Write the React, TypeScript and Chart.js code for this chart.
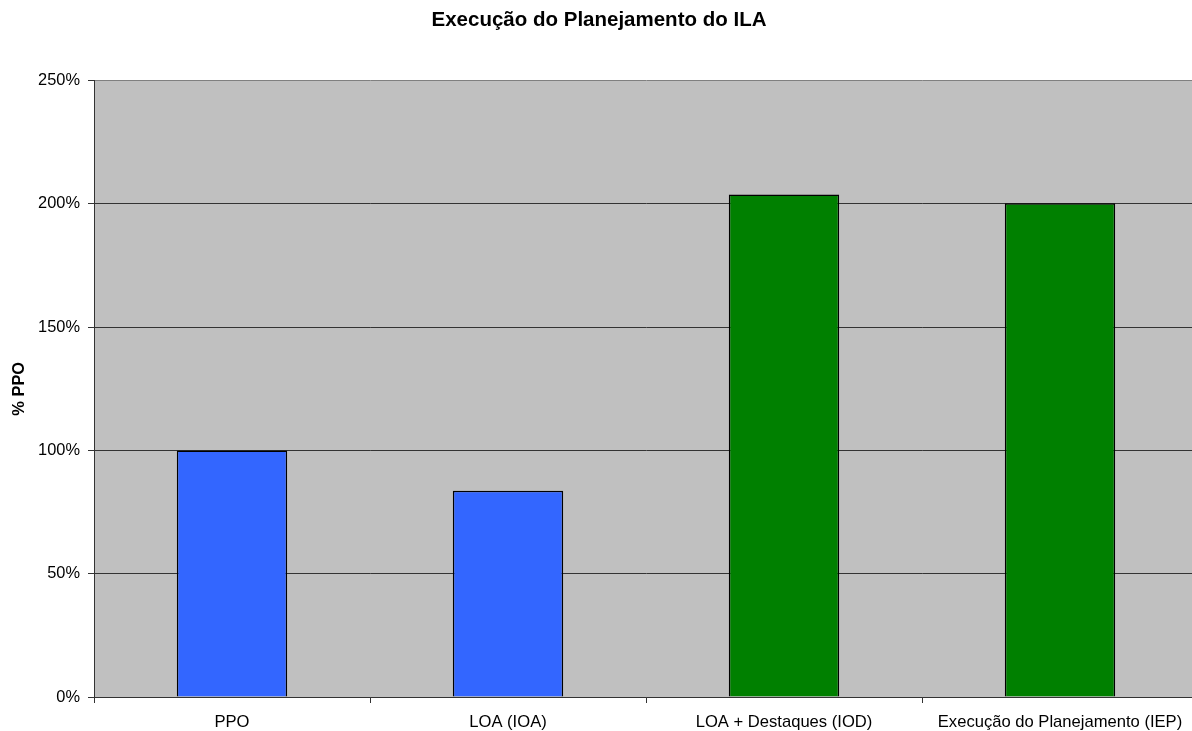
import React, { useEffect, useRef } from "react";
import { Chart, registerables } from "chart.js";

Chart.register(...registerables);

const categories = [
  "PPO",
  "LOA (IOA)",
  "LOA + Destaques (IOD)",
  "Execução do Planejamento (IEP)",
];
const percentValues = [100, 83.7, 203.8, 200.3];
const barColors = ["#3366FF", "#3366FF", "#008000", "#008000"];
const yTicks = [0, 50, 100, 150, 200, 250];

const chartTitle = "Execução do Planejamento do ILA";
const yAxisTitle = "% PPO";

const plotBackground = {
  id: "plotBackground",
  beforeDraw(chart: any) {
    const { ctx, chartArea } = chart;
    ctx.save();
    ctx.fillStyle = "#C0C0C0";
    ctx.fillRect(chartArea.left, chartArea.top, chartArea.right - chartArea.left, chartArea.bottom - chartArea.top);
    ctx.restore();
  },
};

export default function App() {
  const canvasRef = useRef<HTMLCanvasElement | null>(null);

  useEffect(() => {
    if (!canvasRef.current) return;
    Chart.defaults.font.family = "'Liberation Sans', Arial, sans-serif";
    Chart.defaults.color = "#000";

    const chart = new Chart(canvasRef.current, {
      type: "bar",
      data: {
        labels: categories,
        datasets: [
          {
            data: percentValues,
            backgroundColor: barColors,
            borderColor: "#000",
            borderWidth: 1.5,
            barPercentage: 0.4,
            categoryPercentage: 1,
          },
        ],
      },
      options: {
        responsive: false,
        animation: false,
        devicePixelRatio: 1,
        layout: { padding: { left: 0, right: 6, top: 0, bottom: 0 } },
        plugins: {
          legend: { display: false },
          tooltip: { enabled: false },
          title: {
            display: true,
            text: chartTitle,
            color: "#000",
            font: { size: 20.5, weight: "bold" },
            padding: { top: 8, bottom: 48 },
          },
        },
        scales: {
          x: {
            grid: {
              offset: true,
              drawOnChartArea: false,
              drawTicks: true,
              tickLength: 6,
              color: "#333",
            },
            border: { color: "#333", width: 1 },
            ticks: {
              font: { size: 16.6 },
              color: "#000",
              padding: 9,
              maxRotation: 0,
              autoSkip: false,
            },
            afterFit(scale: any) {
              scale.height = 34;
            },
          },
          y: {
            min: 0,
            max: 250,
            afterBuildTicks(scale: any) {
              scale.ticks = yTicks.map((v) => ({ value: v }));
            },
            grid: {
              color: (ctx: any) => (ctx.tick && ctx.tick.value === 250 ? "#808080" : "#333"),
              tickColor: "#333",
              tickLength: 6,
              lineWidth: 1,
            },
            border: { color: "#333", width: 1 },
            ticks: {
              font: { size: 16.4 },
              color: "#000",
              padding: 8,
              callback: (v: any) => `${v}%`,
            },
            title: {
              display: true,
              text: yAxisTitle,
              color: "#000",
              font: { size: 16.4, weight: "bold" },
              padding: { top: 10, bottom: 0 },
            },
            afterFit(scale: any) {
              scale.width = 94;
            },
          },
        },
      },
      plugins: [plotBackground],
    });

    return () => chart.destroy();
  }, []);

  return (
    <div
      style={{
        position: "fixed",
        left: 0,
        top: 0,
        width: 1192,
        height: 731,
        overflow: "hidden",
        background: "#fff",
      }}
    >
      <canvas ref={canvasRef} width={1204} height={731} style={{ display: "block" }} />
    </div>
  );
}
